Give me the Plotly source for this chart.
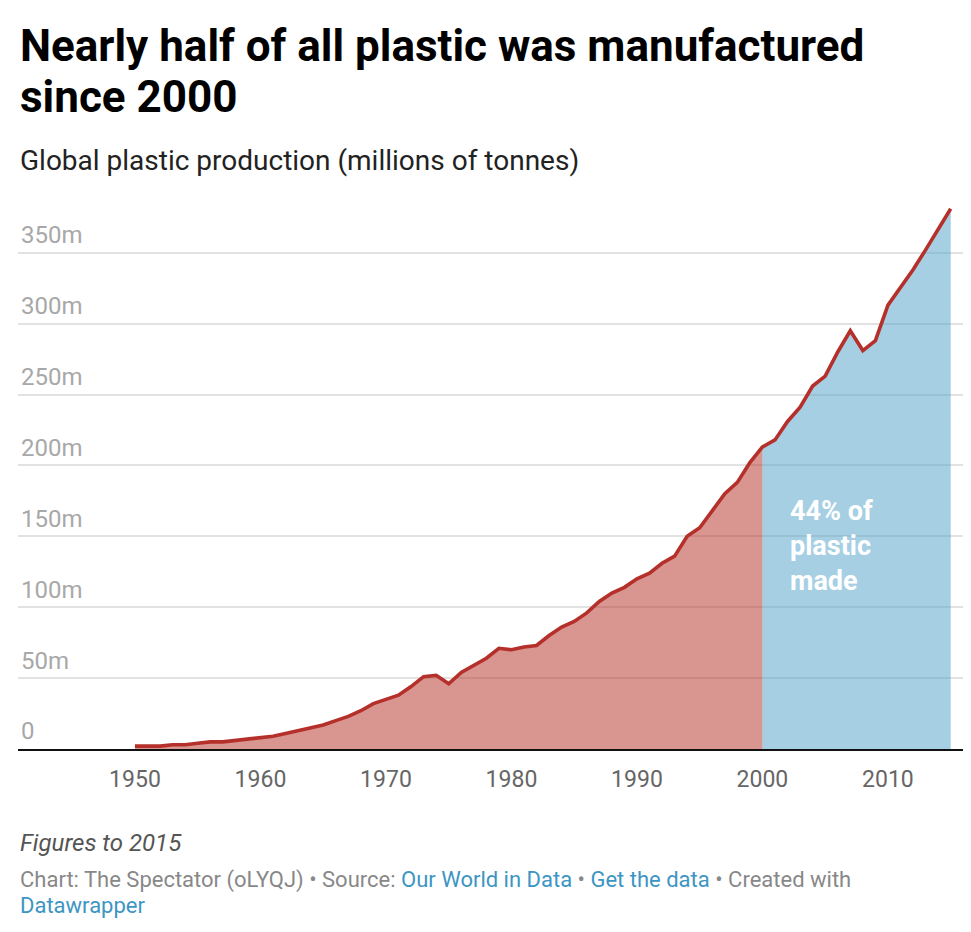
import plotly.graph_objects as go

years = list(range(1950, 2016))
production = [2, 2, 2, 3, 3, 4, 5, 5, 6, 7,
              8, 9, 11, 13, 15, 17, 20, 23, 27, 32,
              35, 38, 44, 51, 52, 46, 54, 59, 64, 71,
              70, 72, 73, 80, 86, 90, 96, 104, 110, 114,
              120, 124, 131, 136, 150, 156, 168, 180, 188, 202,
              213, 218, 231, 241, 256, 263, 280, 295, 281, 288,
              313, 325, 338, 352, 367, 381]

split_year = 2000
x_ticks = [1950, 1960, 1970, 1980, 1990, 2000, 2010]
y_ticks = [0, 50, 100, 150, 200, 250, 300, 350]
y_tick_labels = ["0", "50m", "100m", "150m", "200m", "250m", "300m", "350m"]

idx = years.index(split_year)
pre_x, pre_y = years[:idx + 1], production[:idx + 1]
post_x, post_y = years[idx:], production[idx:]

fig = go.Figure()
fig.add_trace(go.Scatter(x=pre_x, y=pre_y, mode="lines", line=dict(width=0),
                         fill="tozeroy", fillcolor="rgba(179,43,33,0.5)",
                         hoverinfo="skip", showlegend=False))
fig.add_trace(go.Scatter(x=post_x, y=post_y, mode="lines", line=dict(width=0),
                         fill="tozeroy", fillcolor="rgba(78,160,202,0.5)",
                         hoverinfo="skip", showlegend=False))
fig.add_trace(go.Scatter(x=years, y=production, mode="lines",
                         line=dict(color="#b5302a", width=3.6),
                         showlegend=False))

# page offset caused by default body margin
OFF = 8
W, H = 955, 916
top = 195.5 - OFF
bottom = H - (749.3 - OFF)
plot_h = H - top - bottom

def ann_y(page_px):
    return (H - bottom - (page_px - OFF)) / plot_h

LINK = "#3d95c4"

def txt(text, page_y, size, color, family="Roboto"):
    return dict(text=text, x=0, y=ann_y(page_y), xref="paper", yref="paper",
                xanchor="left", yanchor="middle", align="left", showarrow=False,
                font=dict(family=family, size=size, color=color))

annotations = [
    txt("<b>Nearly half of all plastic was manufactured</b>", 45, 44, "#000000"),
    txt("<b>since 2000</b>", 96, 44, "#000000"),
    txt("Global plastic production (millions of tonnes)", 160, 28, "#222222"),
    dict(text="<b>44% of<br>plastic<br>made</b>",
         x=2002.0, y=143, xref="x", yref="y", xanchor="left", yanchor="middle",
         align="left", showarrow=False,
         font=dict(family="Roboto", size=27, color="#ffffff")),
    txt("<i>Figures to 2015</i>", 843, 24, "#555555"),
    txt("Chart: The Spectator (oLYQJ) • Source: <span style='color:%s'>Our World in Data</span>"
        " • <span style='color:%s'>Get the data</span> • Created with" % (LINK, LINK),
        880, 22, "#888888"),
    txt("<span style='color:%s'>Datawrapper</span>" % LINK, 906, 22, "#888888"),
]

fig.update_layout(
    width=W, height=H,
    margin=dict(l=18 - OFF, r=0, t=top, b=bottom, pad=0),
    paper_bgcolor="white", plot_bgcolor="white",
    font=dict(family="Roboto"),
    annotations=annotations,
    xaxis=dict(range=[1940.68, 2015.98], tickvals=x_ticks, showgrid=False,
               zeroline=False, showline=True, linecolor="#111111", linewidth=2,
               ticks="", ticklabelstandoff=8,
               tickfont=dict(family="Roboto", size=23, color="#666666")),
    yaxis=dict(range=[0, 390], tickvals=y_ticks, ticktext=y_tick_labels,
               showgrid=True, gridcolor="#e2e2e2", gridwidth=1.5, zeroline=False,
               showline=False, ticks="", ticklabelposition="inside",
               ticklabelshift=-18, ticklabelstandoff=0,
               tickfont=dict(family="Roboto", size=24, color="#a8a8a8")),
)

fig.write_html("out.html")
